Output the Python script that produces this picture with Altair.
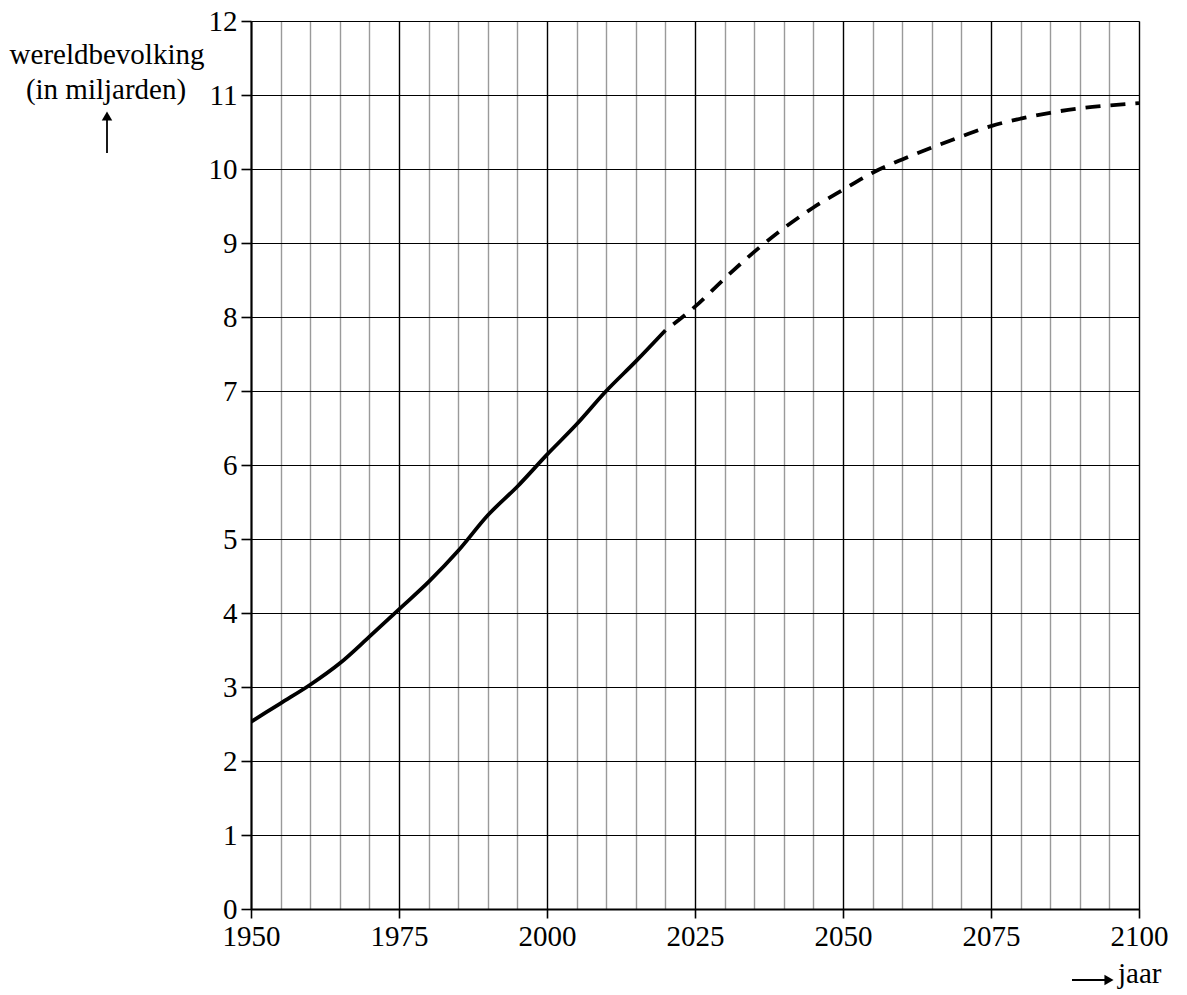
import altair as alt
import pandas as pd

years_hist = [1950, 1955, 1960, 1965, 1970, 1975, 1980, 1985, 1990, 1995,
              2000, 2005, 2010, 2015, 2020]
pop_hist = [2.53, 2.78, 3.03, 3.32, 3.68, 4.05, 4.42, 4.84, 5.32, 5.71,
            6.14, 6.55, 7.00, 7.40, 7.82]

years_proj = [2020, 2025, 2030, 2035, 2040, 2045, 2050, 2055, 2060, 2065,
              2070, 2075, 2080, 2085, 2090, 2095, 2100]
pop_proj = [7.82, 8.14, 8.52, 8.88, 9.20, 9.48, 9.72, 9.95, 10.13, 10.29,
            10.44, 10.58, 10.68, 10.76, 10.82, 10.86, 10.89]

x_ticks = list(range(1950, 2101, 5))
y_ticks = list(range(0, 13))

FONT = "Liberation Serif"
FS = 29

hist = pd.DataFrame({"jaar": years_hist, "bev": pop_hist})
proj = pd.DataFrame({"jaar": years_proj, "bev": pop_proj})

xscale = alt.Scale(domain=[1950, 2100], nice=False, zero=False)
yscale = alt.Scale(domain=[0, 12], nice=False)

is25 = "datum.value % 25 === 0"

xaxis = alt.Axis(
    values=x_ticks,
    labelExpr="datum.value % 25 === 0 ? datum.value : ''",
    format="d",
    title=None,
    grid=True,
    gridColor={"condition": {"test": is25, "value": "#000000"}, "value": "#9a9a9a"},
    gridWidth=1.4,
    gridOpacity=1,
    tickColor="#000000",
    tickOpacity={"condition": {"test": is25, "value": 1}, "value": 0},
    tickSize=9,
    tickWidth=1.6,
    domainColor="#000000",
    domainWidth=2,
    labelFont=FONT,
    labelFontSize=FS,
    labelColor="#000000",
    labelPadding=4,
    labelFlush=False,
    labelOverlap=False,
)

yaxis = alt.Axis(
    values=y_ticks,
    format="d",
    title=None,
    grid=True,
    gridColor="#000000",
    gridWidth=1.2,
    gridOpacity=1,
    tickColor="#000000",
    tickSize=10,
    tickWidth=1.6,
    domainColor="#000000",
    domainWidth=2,
    labelFont=FONT,
    labelFontSize=FS,
    labelColor="#000000",
    labelPadding=4,
    labelFlush=False,
    labelOverlap=False,
)

line_hist = alt.Chart(hist).mark_line(
    color="black", strokeWidth=3.8, interpolate="monotone", clip=True
).encode(
    x=alt.X("jaar:Q", scale=xscale, axis=xaxis),
    y=alt.Y("bev:Q", scale=yscale, axis=yaxis),
)

line_proj = alt.Chart(proj).mark_line(
    color="black", strokeWidth=3.8, interpolate="monotone",
    strokeDash=[15, 10], strokeDashOffset=15, clip=True
).encode(
    x=alt.X("jaar:Q", scale=xscale, axis=xaxis),
    y=alt.Y("bev:Q", scale=yscale, axis=yaxis),
)

# y-title text and arrow
ytitle1 = alt.Chart(pd.DataFrame({"t": ["wereldbevolking"]})).mark_text(
    font=FONT, fontSize=FS, color="black", align="center", baseline="alphabetic"
).encode(x=alt.value(-144), y=alt.value(43), text="t:N")
ytitle2 = alt.Chart(pd.DataFrame({"t": ["(in miljarden)"]})).mark_text(
    font=FONT, fontSize=FS, color="black", align="center", baseline="alphabetic"
).encode(x=alt.value(-145), y=alt.value(78), text="t:N")
yarrow = alt.Chart(pd.DataFrame({"a": [0]})).mark_rule(
    color="black", strokeWidth=1.8
).encode(x=alt.value(-144), y=alt.value(96), y2=alt.value(132))
yhead = alt.Chart(pd.DataFrame({"a": [0]})).mark_point(
    shape="triangle-up", filled=True, color="black", size=110, opacity=1
).encode(x=alt.value(-144), y=alt.value(95))

# x-title arrow and text
xarrow = alt.Chart(pd.DataFrame({"a": [0]})).mark_rule(
    color="black", strokeWidth=1.8
).encode(x=alt.value(821), x2=alt.value(856), y=alt.value(959))
xhead = alt.Chart(pd.DataFrame({"a": [0]})).mark_point(
    shape="triangle-right", filled=True, color="black", size=110, opacity=1
).encode(x=alt.value(858), y=alt.value(959))
xtitle = alt.Chart(pd.DataFrame({"t": ["jaar"]})).mark_text(
    font=FONT, fontSize=FS, color="black", align="left", baseline="alphabetic"
).encode(x=alt.value(867), y=alt.value(962), text="t:N")

chart = alt.layer(
    line_hist, line_proj, ytitle1, ytitle2, yarrow, yhead, xarrow, xhead, xtitle
).properties(
    width=888,
    height=888,
    autosize=alt.AutoSizeParams(type="none"),
    padding={"left": 243, "top": 13, "right": 40, "bottom": 80},
).configure_view(
    stroke=None
).configure(
    background="white"
)

chart.save("out.html", embed_options={"renderer": "svg", "actions": False})
